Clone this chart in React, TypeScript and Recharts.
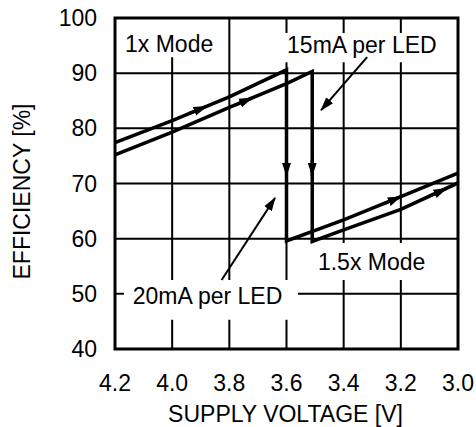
import {
  LineChart, Line, XAxis, YAxis, CartesianGrid, ReferenceArea, ReferenceLine, ReferenceDot, Label,
} from "recharts";

// supply voltage [V] and efficiency [%]
const volts20mA = [4.2, 4.0, 3.8, 3.6, 3.6, 3.4, 3.2, 3.0];
const eff20mA = [77.4, 81.4, 85.7, 90.6, 59.6, 63.4, 67.6, 71.9];
const volts15mA = [4.2, 4.0, 3.8, 3.6, 3.51, 3.51, 3.4, 3.2, 3.0];
const eff15mA = [75.2, 79.3, 83.8, 88.1, 90.3, 59.5, 61.6, 65.3, 70.1];
const voltTicks = [4.2, 4.0, 3.8, 3.6, 3.4, 3.2, 3.0];
const effTicks = [40, 50, 60, 70, 80, 90, 100];

const toRows = (v: number[], e: number[]) => v.map((x, i) => ({ v: x, eff: e[i] }));
const data20 = toRows(volts20mA, eff20mA);
const data15 = toRows(volts15mA, eff15mA);

// direction arrows sitting on the curves: [fromV, fromEff, toV, toEff]
const curveArrows = [
  [3.94, 82.7, 3.88, 84.0],
  [3.78, 84.2, 3.72, 85.5],
  [3.6, 74.2, 3.6, 71.4],
  [3.51, 74.2, 3.51, 71.4],
  [3.26, 66.3, 3.2, 67.6],
  [3.1, 67.7, 3.04, 69.1],
];
// pointer arrows from the labels
const pointers = [
  [3.318, 92.9, 3.479, 83.3],
  [3.827, 52.5, 3.64, 67.4],
];
// white boxes behind the labels: [v1, v2, eff1, eff2]
const labelBoxes = [
  [4.2, 3.819, 100, 92.9],
  [3.612, 3.045, 97.3, 92.0],
  [4.169, 3.56, 52.5, 45.3],
  [3.518, 3.063, 59.2, 52.5],
];
const labels = [
  { text: "1x Mode", v: 4.165, eff: 93.8 },
  { text: "15mA per LED", v: 3.598, eff: 93.7 },
  { text: "20mA per LED", v: 4.138, eff: 48.2 },
  { text: "1.5x Mode", v: 3.49, eff: 54.3 },
];

const FONT = "'Liberation Sans', Arial, sans-serif";

export default function App() {
  return (
    <div style={{ position: "absolute", left: 0, top: 0, background: "#fff" }}>
      <LineChart
        width={476}
        height={427}
        margin={{ top: 18, right: 18, left: 0, bottom: 0 }}
        style={{ fontFamily: FONT }}
      >
        <defs>
          <marker id="head" markerUnits="userSpaceOnUse" markerWidth="14" markerHeight="10"
            refX="13" refY="5" orient="auto">
            <path d="M0,0.5 L14,5 L0,9.5 z" fill="#000" />
          </marker>
        </defs>
        <CartesianGrid stroke="#000" strokeWidth={2} />
        <XAxis
          dataKey="v"
          type="number"
          domain={[3.0, 4.2]}
          reversed
          ticks={voltTicks}
          tickFormatter={(t: number) => t.toFixed(1)}
          allowDataOverflow
          axisLine={false}
          tickLine={false}
          tickSize={0}
          tickMargin={26}
          height={78}
          tick={{ fill: "#000", fontSize: 23 }}
        >
          <Label
            content={({ viewBox }: any) => (
              <text x={viewBox.x + viewBox.width / 2 - 1} y={422} textAnchor="middle"
                fontSize={23} fill="#000">SUPPLY VOLTAGE [V]</text>
            )}
          />
        </XAxis>
        <YAxis
          type="number"
          domain={[40, 100]}
          ticks={effTicks}
          axisLine={false}
          tickLine={false}
          tickSize={0}
          tickMargin={18}
          width={115}
          tick={{ fill: "#000", fontSize: 23 }}
        >
          <Label
            content={({ viewBox }: any) => {
              const cx = viewBox.x + 22;
              const cy = viewBox.y + viewBox.height / 2 + 8;
              return (
                <text x={cx} y={cy} transform={`rotate(-90 ${cx} ${cy})`} textAnchor="middle"
                  dominantBaseline="central" fontSize={23} fill="#000">EFFICIENCY [%]</text>
              );
            }}
          />
        </YAxis>
        {labelBoxes.map(([v1, v2, e1, e2], i) => (
          <ReferenceArea key={"b" + i} x1={v1} x2={v2} y1={e1} y2={e2}
            fill="#fff" fillOpacity={1} stroke="none" />
        ))}
        <ReferenceArea x1={4.2} x2={3.0} y1={40} y2={100} fill="none" stroke="#000" strokeWidth={3} />
        <Line data={data20} dataKey="eff" type="linear" stroke="#000" strokeWidth={3.5}
          dot={false} isAnimationActive={false} />
        <Line data={data15} dataKey="eff" type="linear" stroke="#000" strokeWidth={3.5}
          dot={false} isAnimationActive={false} />
        {[...curveArrows, ...pointers].map(([a, b, c, d], i) => (
          <ReferenceLine
            key={"a" + i}
            segment={[{ x: a, y: b }, { x: c, y: d }]}
            ifOverflow="visible"
            shape={(p: any) => (
              <line x1={p.x1} y1={p.y1} x2={p.x2} y2={p.y2} stroke="#000"
                strokeWidth={i < curveArrows.length ? 3 : 2} markerEnd="url(#head)" />
            )}
          />
        ))}
        {labels.map((l) => (
          <ReferenceDot
            key={l.text}
            x={l.v}
            y={l.eff}
            r={0}
            shape={(p: any) => (
              <text x={p.cx} y={p.cy} fontSize={23} fill="#000" fontFamily={FONT}>{l.text}</text>
            )}
          />
        ))}
      </LineChart>
    </div>
  );
}
